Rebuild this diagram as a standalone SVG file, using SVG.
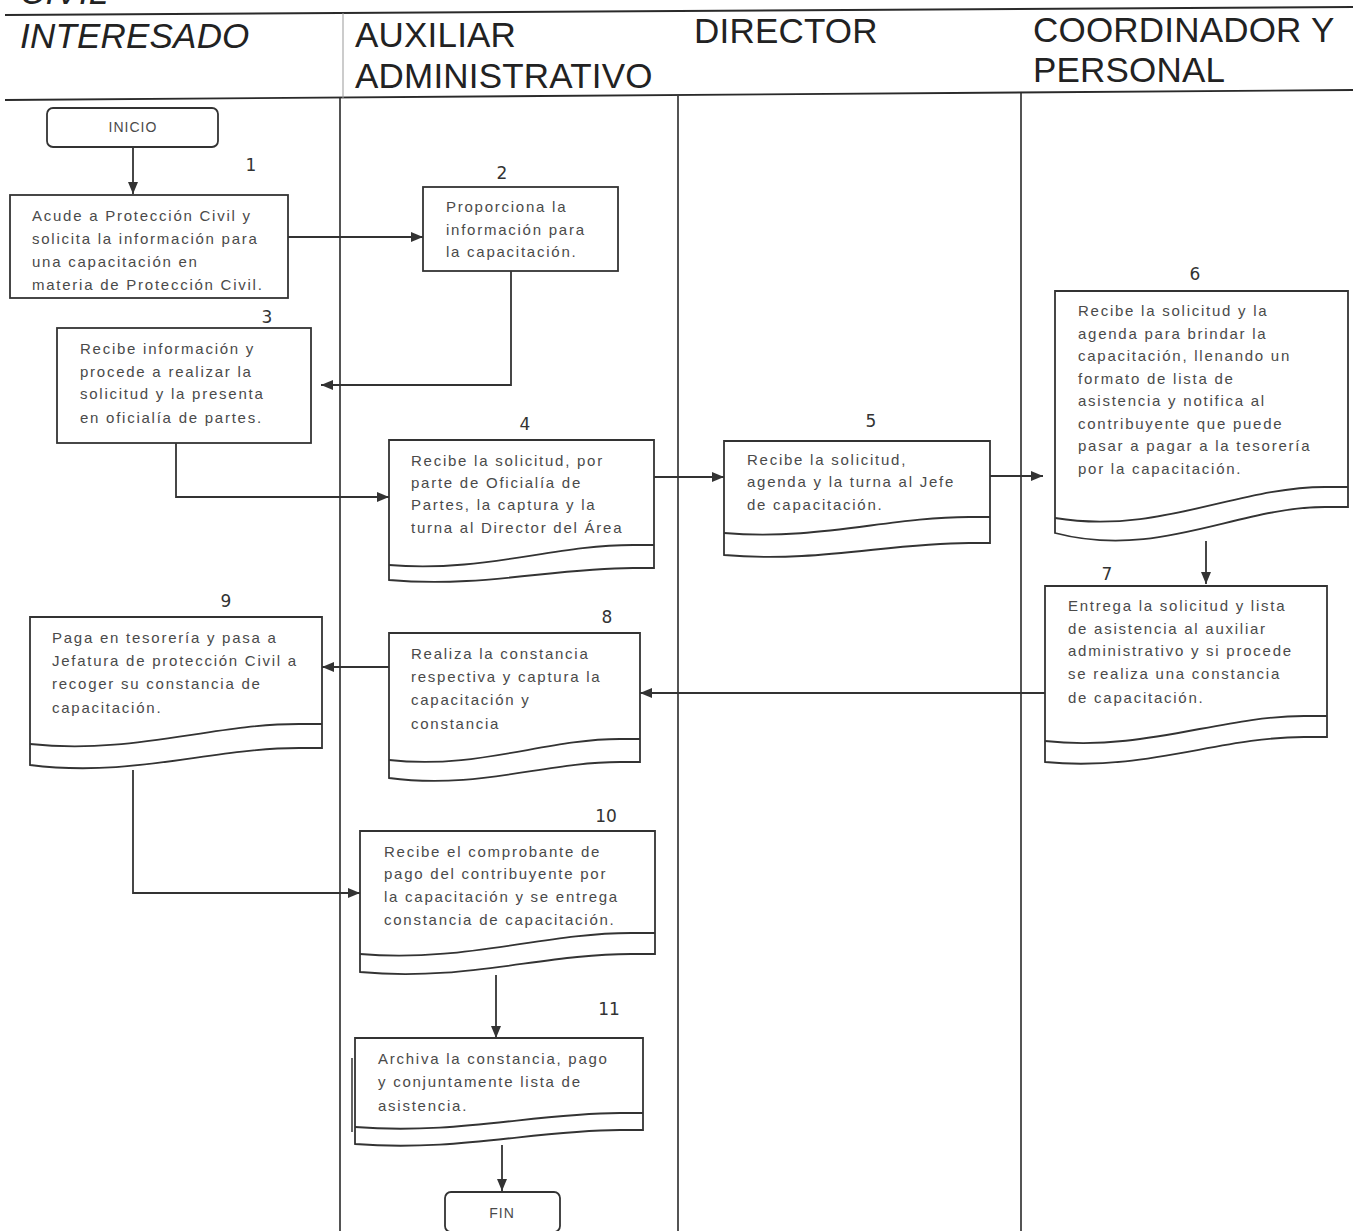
<svg xmlns="http://www.w3.org/2000/svg" width="1353" height="1231" viewBox="0 0 1353 1231">
<defs>
<marker id="ah" viewBox="0 0 12 10" refX="12" refY="5" markerWidth="12" markerHeight="10" markerUnits="userSpaceOnUse" orient="auto">
<path d="M0,0 L12,5 L0,10 Z" fill="#333"/>
</marker>
</defs>
<style>
.bg{fill:#ffffff}
.lane{stroke:#2a2a2a;stroke-width:1.6;fill:none}
.hline{stroke:#2a2a2a;stroke-width:1.8;fill:none}
.hdr{font-family:"Liberation Sans",Arial,sans-serif;font-size:35px;letter-spacing:0.2px;fill:#222}
.it{font-style:italic}
.box{fill:#fff;stroke:#333;stroke-width:1.8}
.wave{fill:none;stroke:#333;stroke-width:1.8}
.t{font-family:"Liberation Sans",Arial,sans-serif;font-size:15px;letter-spacing:1.75px;fill:#4a4a4a}
.ts{font-family:"Liberation Sans",Arial,sans-serif;font-size:14px;letter-spacing:1px;fill:#4a4a4a;text-anchor:middle}
.num{font-family:"DejaVu Sans",sans-serif;font-size:17px;fill:#333;text-anchor:middle}
.conn{fill:none;stroke:#333;stroke-width:1.8}
</style>
<rect class="bg" x="0" y="0" width="1353" height="1231"/>

<g id="header">
<text class="hdr it" x="20" y="4">CIVIL</text>
<line class="hline" x1="5" y1="15" x2="1353" y2="7"/>
<line class="hline" x1="5" y1="100" x2="1353" y2="90"/>
<line x1="343" y1="13" x2="343" y2="98" stroke="#999" stroke-width="1"/>
<text class="hdr it" x="20" y="48">INTERESADO</text>
<text class="hdr" x="355" y="47">AUXILIAR</text>
<text class="hdr" x="355" y="88">ADMINISTRATIVO</text>
<text class="hdr" x="694" y="43">DIRECTOR</text>
<text class="hdr" x="1033" y="42">COORDINADOR Y</text>
<text class="hdr" x="1033" y="82">PERSONAL</text>
</g>

<g id="lanes">
<line class="lane" x1="340" y1="98" x2="340" y2="1231"/>
<line class="lane" x1="678" y1="96" x2="678" y2="1231"/>
<line class="lane" x1="1021" y1="93" x2="1021" y2="1231"/>
</g>

<g id="connectors">
<path class="conn" d="M133,147 V194" marker-end="url(#ah)"/>
<path class="conn" d="M288,237 H423" marker-end="url(#ah)"/>
<path class="conn" d="M511,271 V385 H321" marker-end="url(#ah)"/>
<path class="conn" d="M176,443 V497 H389" marker-end="url(#ah)"/>
<path class="conn" d="M654,477 H724" marker-end="url(#ah)"/>
<path class="conn" d="M990,476 H1043" marker-end="url(#ah)"/>
<path class="conn" d="M1206,541 V584" marker-end="url(#ah)"/>
<path class="conn" d="M1045,693 H640" marker-end="url(#ah)"/>
<path class="conn" d="M389,667 H322" marker-end="url(#ah)"/>
<path class="conn" d="M133,770 V893 H360" marker-end="url(#ah)"/>
<path class="conn" d="M496,975 V1038" marker-end="url(#ah)"/>
<path class="conn" d="M502,1145 V1191" marker-end="url(#ah)"/>
</g>

<g id="inicio">
<rect class="box" x="47" y="108" width="171" height="39" rx="6"/>
<text class="ts" x="133" y="132">INICIO</text>
</g>

<g id="n1">
<text class="num" x="251" y="171">1</text>
<rect class="box" x="10" y="195" width="278" height="103"/>
<text class="t" x="32" y="221">Acude a Protección Civil y</text>
<text class="t" x="32" y="244">solicita la información para</text>
<text class="t" x="32" y="267">una capacitación en</text>
<text class="t" x="32" y="290">materia de Protección Civil.</text>
</g>

<g id="n2">
<text class="num" x="502" y="179">2</text>
<rect class="box" x="423" y="187" width="195" height="84"/>
<text class="t" x="446" y="212">Proporciona la</text>
<text class="t" x="446" y="235">información para</text>
<text class="t" x="446" y="257">la capacitación.</text>
</g>

<g id="n3">
<text class="num" x="267" y="323">3</text>
<rect class="box" x="57" y="328" width="254" height="115"/>
<text class="t" x="80" y="354">Recibe información y</text>
<text class="t" x="80" y="377">procede a realizar la</text>
<text class="t" x="80" y="399">solicitud y la presenta</text>
<text class="t" x="80" y="423">en oficialía de partes.</text>
</g>

<g id="n4">
<text class="num" x="525" y="430">4</text>
<path class="box" d="M389,440 H654 V568 H633 C553,568 482,588 389,580 Z"/>
<path class="wave" d="M389,565 C482,573 553,545 633,545 H654"/>
<text class="t" x="411" y="466">Recibe la solicitud, por</text>
<text class="t" x="411" y="488">parte de Oficialía de</text>
<text class="t" x="411" y="510">Partes, la captura y la</text>
<text class="t" x="411" y="533">turna al Director del Área</text>
</g>

<g id="n5">
<text class="num" x="871" y="427">5</text>
<path class="box" d="M724,441 H990 V543 H969 C889,543 817,563 724,555 Z"/>
<path class="wave" d="M724,533 C817,541 889,517 969,517 H990"/>
<text class="t" x="747" y="465">Recibe la solicitud,</text>
<text class="t" x="747" y="487">agenda y la turna al Jefe</text>
<text class="t" x="747" y="510">de capacitación.</text>
</g>

<g id="n6">
<text class="num" x="1195" y="280">6</text>
<path class="box" d="M1055,291 H1348 V507 H1325 C1237,507 1158,560 1055,533 Z"/>
<path class="wave" d="M1055,518 C1158,535 1237,487 1325,487 H1348"/>
<text class="t" x="1078" y="316">Recibe la solicitud y la</text>
<text class="t" x="1078" y="339">agenda para brindar la</text>
<text class="t" x="1078" y="361">capacitación, llenando un</text>
<text class="t" x="1078" y="384">formato de lista de</text>
<text class="t" x="1078" y="406">asistencia y notifica al</text>
<text class="t" x="1078" y="429">contribuyente que puede</text>
<text class="t" x="1078" y="451">pasar a pagar a la tesorería</text>
<text class="t" x="1078" y="474">por la capacitación.</text>
</g>

<g id="n7">
<text class="num" x="1107" y="580">7</text>
<path class="box" d="M1045,586 H1327 V737 H1304 C1220,737 1144,772 1045,762 Z"/>
<path class="wave" d="M1045,741 C1144,752 1220,716 1304,716 H1327"/>
<text class="t" x="1068" y="611">Entrega la solicitud y lista</text>
<text class="t" x="1068" y="634">de asistencia al auxiliar</text>
<text class="t" x="1068" y="656">administrativo y si procede</text>
<text class="t" x="1068" y="679">se realiza una constancia</text>
<text class="t" x="1068" y="703">de capacitación.</text>
</g>

<g id="n8">
<text class="num" x="607" y="623">8</text>
<path class="box" d="M389,633 H640 V762 H620 C545,762 477,790 389,778 Z"/>
<path class="wave" d="M389,760 C477,770 545,739 620,739 H640"/>
<text class="t" x="411" y="659">Realiza la constancia</text>
<text class="t" x="411" y="682">respectiva y captura la</text>
<text class="t" x="411" y="705">capacitación y</text>
<text class="t" x="411" y="729">constancia</text>
</g>

<g id="n9">
<text class="num" x="226" y="607">9</text>
<path class="box" d="M30,617 H322 V748 H299 C211,748 132,778 30,765 Z"/>
<path class="wave" d="M30,744 C132,755 211,724 299,724 H322"/>
<text class="t" x="52" y="643">Paga en tesorería y pasa a</text>
<text class="t" x="52" y="666">Jefatura de protección Civil a</text>
<text class="t" x="52" y="689">recoger su constancia de</text>
<text class="t" x="52" y="713">capacitación.</text>
</g>

<g id="n10">
<text class="num" x="606" y="822">10</text>
<path class="box" d="M360,831 H655 V954 H631 C543,954 463,982 360,972 Z"/>
<path class="wave" d="M360,954 C463,963 543,933 631,933 H655"/>
<text class="t" x="384" y="857">Recibe el comprobante de</text>
<text class="t" x="384" y="879">pago del contribuyente por</text>
<text class="t" x="384" y="902">la capacitación y se entrega</text>
<text class="t" x="384" y="925">constancia de capacitación.</text>
</g>

<g id="n11">
<text class="num" x="609" y="1015">11</text>
<path class="box" d="M355,1038 H643 V1130 H620 C535,1130 457,1152 355,1144 Z"/>
<path class="wave" d="M355,1127 C457,1135 535,1113 620,1113 H643"/>
<line x1="352" y1="1058" x2="352" y2="1132" stroke="#333" stroke-width="1.5"/>
<text class="t" x="378" y="1064">Archiva la constancia, pago</text>
<text class="t" x="378" y="1087">y conjuntamente lista de</text>
<text class="t" x="378" y="1111">asistencia.</text>
</g>

<g id="fin">
<rect class="box" x="445" y="1192" width="115" height="40" rx="6"/>
<text class="ts" x="502" y="1218">FIN</text>
</g>
</svg>
